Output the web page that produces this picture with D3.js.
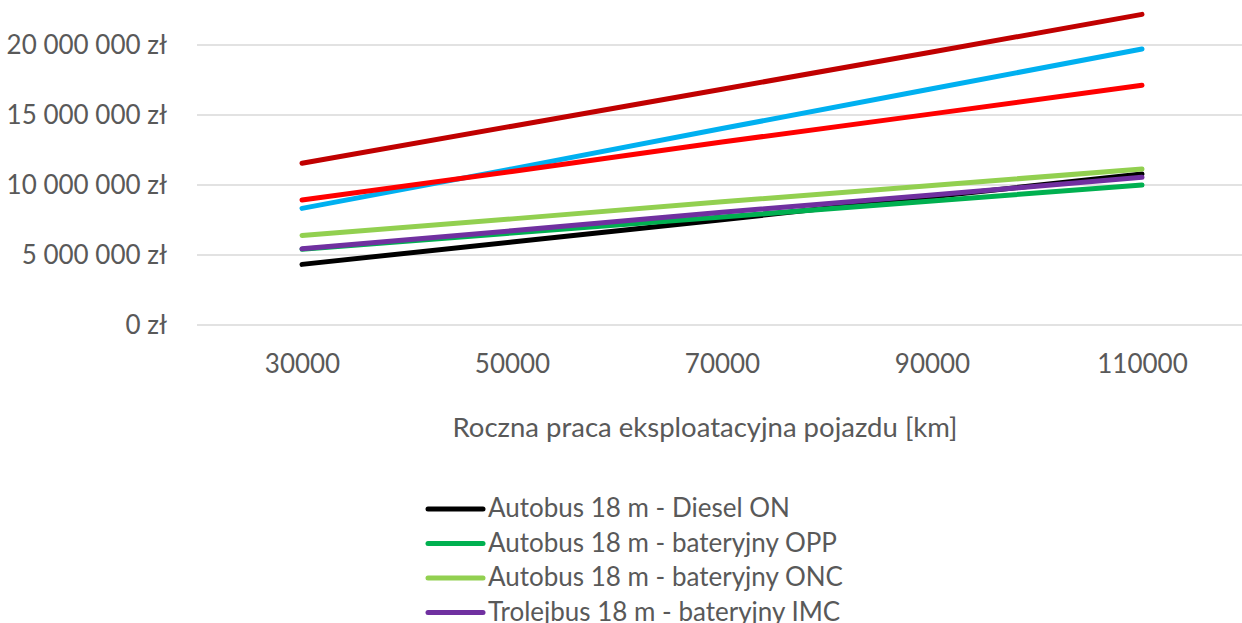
<!DOCTYPE html>
<html>
<head>
<meta charset="utf-8">
<script src="https://cdn.jsdelivr.net/npm/d3@7"></script>
<style>
  html, body { margin: 0; padding: 0; background: #fff; overflow: hidden; }
  svg { display: block; font-family: Lato, 'Open Sans', sans-serif; }
</style>
</head>
<body>
<svg id="chart" width="1242" height="623"></svg>
<script>
// roczna praca eksploatacyjna [km]
var categories = ['30000', '50000', '70000', '90000', '110000'];

// koszt calkowity [zl]
var dieselON     = [4330000, 5930000, 7520000, 9160000, 10790000];
var bateryjnyOPP = [5410000, 6570000, 7720000, 8860000, 10000000];
var bateryjnyONC = [6400000, 7580000, 8800000, 9970000, 11140000];
var trolejIMC    = [5450000, 6730000, 8050000, 9290000, 10550000];
var wodorowy     = [11550000, 14200000, 16840000, 19500000, 22190000];
var wodorowyB    = [8330000, 11150000, 14030000, 16880000, 19710000];
var wodorowyC    = [8930000, 10970000, 13070000, 15080000, 17120000];

var seriesNames = [
  'Autobus 18 m - Diesel ON',
  'Autobus 18 m - bateryjny OPP',
  'Autobus 18 m - bateryjny ONC',
  'Trolejbus 18 m - bateryjny IMC',
  'Autobus 18 m - wodorowy FCEV',
  'Autobus 18 m - wodorowy REX',
  'Autobus 18 m - wodorowy H2'
];
var seriesValues = [dieselON, bateryjnyOPP, bateryjnyONC, trolejIMC, wodorowy, wodorowyB, wodorowyC];
var seriesColors = ['#000000', '#00B050', '#92D050', '#7030A0', '#C00000', '#00B0F0', '#FF0000'];
var yTicks = [0, 5000000, 10000000, 15000000, 20000000];

var svg = d3.select('#chart');
var plotLeft = 197, plotRight = 1247, plotTop = -25, plotBottom = 325;
var textColor = '#595959';
var fontSize = '26px';

var x = d3.scalePoint().domain(categories).range([plotLeft, plotRight]).padding(0.5);
var y = d3.scaleLinear().domain([0, 25000000]).range([plotBottom, plotTop]);

var pl = d3.formatLocale({decimal: ',', thousands: ' ', grouping: [3], currency: ['', ' zł']});
var fmt = function(d) { return pl.format(',.0f')(d) + ' zł'; };

// gridlines
svg.append('g')
  .selectAll('line')
  .data(yTicks)
  .enter().append('line')
    .attr('x1', plotLeft).attr('x2', plotRight)
    .attr('y1', function(d) { return y(d); })
    .attr('y2', function(d) { return y(d); })
    .style('stroke', '#D9D9D9')
    .style('stroke-width', 1.5);

// y axis labels
svg.append('g')
  .attr('transform', 'translate(' + plotLeft + ',0)')
  .call(d3.axisLeft(y).tickValues(yTicks).tickFormat(fmt).tickSize(0).tickPadding(30))
  .call(function(g) { g.select('.domain').remove(); })
  .call(function(g) {
    g.selectAll('text').style('font-size', fontSize).style('fill', textColor)
      .style('font-family', 'Lato, sans-serif');
  });

// x axis labels
svg.append('g')
  .attr('transform', 'translate(0,' + plotBottom + ')')
  .call(d3.axisBottom(x).tickSize(0))
  .call(function(g) { g.select('.domain').remove(); })
  .call(function(g) {
    g.selectAll('text').attr('y', 48).attr('dy', null)
      .style('font-size', fontSize).style('fill', textColor)
      .style('font-family', 'Lato, sans-serif');
  });

// axis title
svg.append('text')
  .attr('x', 705).attr('y', 437)
  .attr('text-anchor', 'middle')
  .style('font-size', '27.5px')
  .style('fill', textColor)
  .text('Roczna praca eksploatacyjna pojazdu [km]');

// lines
var line = d3.line()
  .x(function(d, i) { return x(categories[i]); })
  .y(function(d) { return y(d); });

svg.append('g')
  .selectAll('path')
  .data(seriesValues)
  .enter().append('path')
    .attr('d', line)
    .style('fill', 'none')
    .style('stroke', function(d, i) { return seriesColors[i]; })
    .style('stroke-width', 5)
    .style('stroke-linecap', 'round')
    .style('stroke-linejoin', 'round');

// legend (lower entries fall outside the picture)
var legend = svg.append('g')
  .selectAll('g')
  .data(seriesNames)
  .enter().append('g')
    .attr('transform', function(d, i) { return 'translate(0,' + (509 + i * 34.5) + ')'; });

legend.append('line')
  .attr('x1', 428).attr('x2', 483)
  .style('stroke', function(d, i) { return seriesColors[i]; })
  .style('stroke-width', 5)
  .style('stroke-linecap', 'round');

legend.append('text')
  .attr('x', 488).attr('dy', '0.32em')
  .style('font-size', fontSize)
  .style('fill', textColor)
  .text(function(d) { return d; });
</script>
</body>
</html>
